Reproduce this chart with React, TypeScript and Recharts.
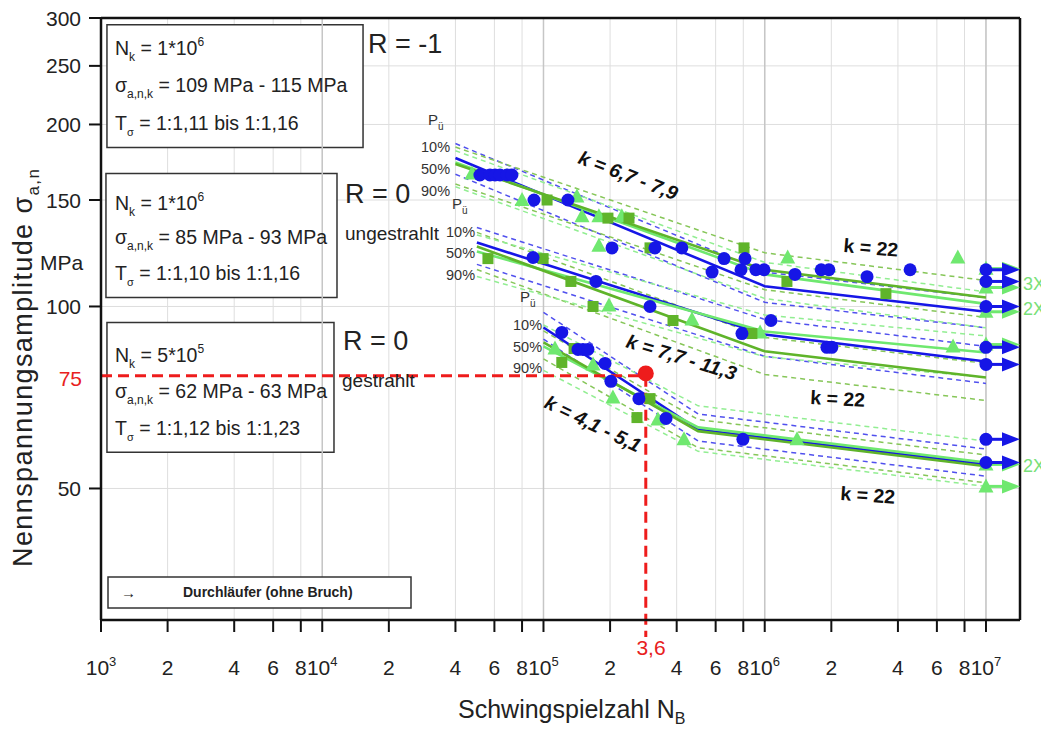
import React, { useLayoutEffect } from "react";
import {
  ComposedChart,
  Line,
  Scatter,
  XAxis,
  YAxis,
  CartesianGrid,
  ReferenceLine,
  ReferenceDot,
  ReferenceArea,
} from "recharts";

const FONT = "'Liberation Sans', Arial, sans-serif";

const BLUE = "#1616e6";
const DGREEN = "#5fb42a";
const LGREEN = "#6fe86f";
const BLUE_D = "#5050ee";
const DGREEN_D = "#86c658";
const LGREEN_D = "#92ee92";

// axes
const xTicks = [1e3, 2e3, 4e3, 6e3, 8e3, 1e4, 2e4, 4e4, 6e4, 8e4, 1e5, 2e5, 4e5, 6e5, 8e5, 1e6, 2e6, 4e6, 6e6, 8e6, 1e7];
const decades = [1e4, 1e5, 1e6, 1e7];
const yTicks = [50, 100, 150, 200, 250, 300];

// N at line start, knee, end
const nR1 = [40000, 1000000, 10000000];
const nR0u = [50000, 1000000, 10000000];
const nR0g = [100000, 500000, 10000000];

// R = -1 (P_ue 10 / 50 / 90 %)
const r1Blue10 = [186, 114, 103.4];
const r1Blue50 = [176, 108, 98];
const r1Blue90 = [165.5, 101.6, 92.2];
const r1DG10 = [183.5, 122.7, 110.4];
const r1DG50 = [172, 115, 103.5];
const r1DG90 = [159.4, 106.6, 95.9];
const r1LG10 = [181, 118.3, 105.7];
const r1LG50 = [173, 113, 101];
const r1LG90 = [157.8, 103.1, 92.2];

// R = 0 ungestrahlt
const r0uBlue10 = [135.1, 95.2, 85.9];
const r0uBlue50 = [127.6, 89.9, 81.1];
const r0uBlue90 = [117.4, 82.7, 74.6];
const r0uDG10 = [132.6, 88.9, 80.5];
const r0uDG50 = [125.7, 84.3, 76.3];
const r0uDG90 = [115.1, 77.2, 69.9];
const r0uLG10 = [131.3, 96.8, 89.4];
const r0uLG50 = [123.3, 90.9, 83.9];
const r0uLG90 = [112.1, 82.6, 76.3];

// R = 0 gestrahlt
const r0gBlue10 = [97.8, 66.4, 58.1];
const r0gBlue50 = [92.3, 62.6, 54.8];
const r0gBlue90 = [88.3, 59.9, 52.4];
const r0gDG10 = [91.1, 65, 56.8];
const r0gDG50 = [87.2, 62.2, 54.4];
const r0gDG90 = [81.9, 58.4, 51.1];
const r0gLG10 = [93.2, 68.5, 59.9];
const r0gLG50 = [85.9, 63.1, 55.2];
const r0gLG90 = [78.4, 57.6, 50.4];

// test points [N, sigma]
const r1Circles = [
  [51600, 165], [57300, 165], [60400, 165], [63600, 165], [68400, 165], [72000, 165],
  [90600, 150], [129000, 150], [204000, 125], [319000, 125], [422000, 125], [578000, 114],
  [655000, 120], [781000, 115], [815000, 120], [912000, 115], [993000, 115], [1370000, 113],
  [1800000, 115], [1950000, 115], [2900000, 112], [4540000, 115],
];
const r1Squares = [[103800, 150], [195600, 140], [243500, 140], [303000, 125], [806000, 125], [1260000, 110], [3530000, 105]];
const r1Triangles = [[47500, 166], [80000, 150], [141600, 152], [149300, 141], [178000, 141], [226000, 141], [178000, 126], [1270000, 120.5], [7460000, 120.5]];
const r1BlueRunouts = [[10000000, 115], [10000000, 110], [10000000, 100]];
const r1GreenRunouts = [[10000000, 115.5], [10000000, 107.5], [10000000, 98]];

const r0uCircles = [[89700, 120.5], [172600, 110], [303000, 100], [789000, 90.2], [1067000, 94.8], [1910000, 85.6], [2010000, 85.6]];
const r0uSquares = [[56100, 120], [99600, 120], [133000, 110], [167500, 100], [385000, 94.8], [875000, 90.2]];
const r0uTriangles = [[197700, 100.4], [469000, 95.2], [953000, 90.6], [7100000, 85.9]];
const r0uBlueRunouts = [[10000000, 85.6], [10000000, 80.2]];
const r0uGreenRunouts = [[10000000, 86.5]];

const r0gCircles = [[121000, 90.6], [143200, 84.9], [150800, 84.9], [158800, 84.9], [189700, 80.5], [201700, 75.2], [270000, 70.4], [358000, 65.3], [797000, 60.3]];
const r0gSquares = [[121000, 80.8], [137500, 85.2], [264600, 65.5], [303000, 70.4]];
const r0gTriangles = [[112700, 85.2], [167500, 80.2], [206000, 70.7], [329000, 65], [431500, 60.3], [1400000, 60.3]];
const r0gBlueRunouts = [[10000000, 60.3], [10000000, 55.2]];
const r0gGreenRunouts = [[10000000, 54.8], [10000000, 50.4]];

// example read-off (red)
const exampleN = 290000;
const exampleSigma = 76.8;

const pts = (n: number[], s: number[]) => n.map((x, i) => ({ x, y: s[i] }));
const pairs = (a: number[][]) => a.map(([x, y]) => ({ x, y }));

const lines = [
  { n: nR1, s: r1Blue10, c: BLUE_D, d: true },
  { n: nR1, s: r1Blue90, c: BLUE_D, d: true },
  { n: nR1, s: r1DG10, c: DGREEN_D, d: true },
  { n: nR1, s: r1DG90, c: DGREEN_D, d: true },
  { n: nR1, s: r1LG10, c: LGREEN_D, d: true },
  { n: nR1, s: r1LG90, c: LGREEN_D, d: true },
  { n: nR0u, s: r0uBlue10, c: BLUE_D, d: true },
  { n: nR0u, s: r0uBlue90, c: BLUE_D, d: true },
  { n: nR0u, s: r0uDG10, c: DGREEN_D, d: true },
  { n: nR0u, s: r0uDG90, c: DGREEN_D, d: true },
  { n: nR0u, s: r0uLG10, c: LGREEN_D, d: true },
  { n: nR0u, s: r0uLG90, c: LGREEN_D, d: true },
  { n: nR0g, s: r0gBlue10, c: BLUE_D, d: true },
  { n: nR0g, s: r0gBlue90, c: BLUE_D, d: true },
  { n: nR0g, s: r0gDG10, c: DGREEN_D, d: true },
  { n: nR0g, s: r0gDG90, c: DGREEN_D, d: true },
  { n: nR0g, s: r0gLG10, c: LGREEN_D, d: true },
  { n: nR0g, s: r0gLG90, c: LGREEN_D, d: true },
  { n: nR1, s: r1Blue50, c: BLUE, d: false },
  { n: nR1, s: r1LG50, c: LGREEN, d: false },
  { n: nR1, s: r1DG50, c: DGREEN, d: false },
  { n: nR0u, s: r0uBlue50, c: BLUE, d: false },
  { n: nR0u, s: r0uLG50, c: LGREEN, d: false },
  { n: nR0u, s: r0uDG50, c: DGREEN, d: false },
  { n: nR0g, s: r0gBlue50, c: BLUE, d: false },
  { n: nR0g, s: r0gLG50, c: LGREEN, d: false },
  { n: nR0g, s: r0gDG50, c: DGREEN, d: false },
];

const circle = (p: any) => <circle cx={p.cx} cy={p.cy} r={6.5} fill={BLUE} />;
const square = (p: any) => <rect x={p.cx - 5.5} y={p.cy - 5.5} width={11} height={11} fill={DGREEN} />;
const triangle = (p: any) => (
  <polygon points={`${p.cx},${p.cy - 8} ${p.cx + 7.5},${p.cy + 6} ${p.cx - 7.5},${p.cy + 6}`} fill={LGREEN} />
);
const runout = (color: string, mark: (p: any) => any) => (p: any) => (
  <g>
    <line x1={p.cx} y1={p.cy} x2={p.cx + 22} y2={p.cy} stroke={color} strokeWidth={3} />
    <polygon points={`${p.cx + 16},${p.cy - 7} ${p.cx + 34},${p.cy} ${p.cx + 16},${p.cy + 7}`} fill={color} />
    {mark(p)}
  </g>
);

const XTick = (p: any) => {
  const v = p.payload.value;
  const e = Math.floor(Math.log10(v) + 1e-9);
  const m = Math.round(v / Math.pow(10, e));
  return (
    <text x={p.x} y={p.y + 41} textAnchor="middle" fontSize={21} fill="#222" fontFamily={FONT}>
      {m === 1 ? (
        <>
          <tspan>10</tspan>
          <tspan fontSize={13} dy={-9}>{e}</tspan>
        </>
      ) : (
        m
      )}
    </text>
  );
};

const YTick = (p: any) => (
  <text x={p.x} y={p.y} dy="0.36em" textAnchor="end" fontSize={21} fill="#222" fontFamily={FONT}>
    {p.payload.value}
  </text>
);

// text with a subscript after the first part and the rest back on the baseline
const SubText = ({ x, y, a, sub, b, s = 12, d = 6, fs = 19.5 }: any) => (
  <text x={x} y={y} fontSize={fs}>
    {a}
    <tspan fontSize={s} dy={d}>{sub}</tspan>
    {b ? <tspan dy={-d}>{b}</tspan> : null}
  </text>
);

const NkText = ({ y, exp, base }: { y: number; exp: string; base: string }) => (
  <text x={115} y={y} fontSize={19.5}>
    N
    <tspan fontSize={12} dy={6}>k</tspan>
    <tspan dy={-6}>{` = ${base}*10`}</tspan>
    <tspan fontSize={12} dy={-9}>{exp}</tspan>
  </text>
);

const Annotations = () => (
  <svg width={1041} height={722} style={{ position: "absolute", left: 0, top: 0, pointerEvents: "none" }} fontFamily={FONT}>
    <g transform="translate(-8 -8)" fill="#222">
      {/* box 1 */}
      <NkText y={55} base="1" exp="6" />
      <SubText x={115} y={92} a="σ" sub="a,n,k" b=" = 109 MPa - 115 MPa" />
      <SubText x={115} y={130} a="T" sub="σ" s={11} b=" = 1:1,11 bis 1:1,16" />
      {/* box 2 */}
      <NkText y={210} base="1" exp="6" />
      <SubText x={115} y={244} a="σ" sub="a,n,k" b=" = 85 MPa - 93 MPa" />
      <SubText x={115} y={280} a="T" sub="σ" s={11} b=" = 1:1,10 bis 1:1,16" />
      {/* box 3 */}
      <NkText y={362} base="5" exp="5" />
      <SubText x={115} y={398} a="σ" sub="a,n,k" b=" = 62 MPa - 63 MPa" />
      <SubText x={115} y={435} a="T" sub="σ" s={11} b=" = 1:1,12 bis 1:1,23" />

      {/* legend */}
      <rect x={108} y={577} width={303} height={31} fill="#fff" stroke="#333" strokeWidth={1.5} />
      <text x={121} y={598} fontSize={15}>→</text>
      <text x={183} y={597} fontSize={14} fontWeight="bold">Durchläufer (ohne Bruch)</text>

      {/* group labels */}
      <text x={368} y={53} fontSize={27}>R = -1</text>
      <text x={345} y={203} fontSize={27}>R = 0</text>
      <text x={345} y={240} fontSize={19}>ungestrahlt</text>
      <text x={343} y={350} fontSize={27}>R = 0</text>
      <text x={342} y={387} fontSize={19}>gestrahlt</text>

      {/* P labels */}
      <g fill="#333">
        <SubText x={428} y={125} a="P" sub="ü" s={10} d={5} fs={15} />
        <text x={421} y={152} fontSize={14.5}>10%</text>
        <text x={421} y={174} fontSize={14.5}>50%</text>
        <text x={421} y={196} fontSize={14.5}>90%</text>
        <SubText x={452} y={209} a="P" sub="ü" s={10} d={5} fs={15} />
        <text x={446} y={237} fontSize={14.5}>10%</text>
        <text x={446} y={258} fontSize={14.5}>50%</text>
        <text x={446} y={280} fontSize={14.5}>90%</text>
        <SubText x={520} y={302} a="P" sub="ü" s={10} d={5} fs={15} />
        <text x={513} y={330} fontSize={14.5}>10%</text>
        <text x={513} y={352} fontSize={14.5}>50%</text>
        <text x={513} y={373} fontSize={14.5}>90%</text>
      </g>

      {/* slopes */}
      <g fontSize={19.5} fontWeight="bold" fill="#111">
        <text transform="translate(577 163) rotate(21)" fontStyle="italic">k = 6,7 - 7,9</text>
        <text transform="translate(843 252) rotate(5)">k = 22</text>
        <text transform="translate(625 347) rotate(17)" fontStyle="italic">k = 7,7 - 11,3</text>
        <text transform="translate(810 404) rotate(3)">k = 22</text>
        <text transform="translate(543 407) rotate(26)" fontStyle="italic">k = 4,1 - 5,1</text>
        <text transform="translate(840 500) rotate(4)">k = 22</text>
      </g>

      <g fontSize={18} fill="#78e078">
        <text x={1023} y={290}>3X</text>
        <text x={1023} y={315}>2X</text>
        <text x={1023} y={472}>2X</text>
      </g>

      {/* red read-off labels */}
      <text x={82} y={386} fontSize={21} fill="#e82020" textAnchor="end">75</text>
      <text x={651} y={655} fontSize={21} fill="#e82020" textAnchor="middle">3,6</text>

      {/* axis titles */}
      <text x={40} y={270} fontSize={21}>MPa</text>
      <text transform="translate(32 567) rotate(-90)" fontSize={27} letterSpacing={1.4}>
        Nennspannungsamplitude σ<tspan fontSize={17} dy={7}>a,n</tspan>
      </text>
      <text x={458} y={718} fontSize={25}>
        Schwingspielzahl N<tspan fontSize={16} dy={6}>B</tspan>
      </text>
    </g>
  </svg>
);

const App = () => {
  useLayoutEffect(() => {
    document.documentElement.style.overflow = "hidden";
    document.body.style.overflow = "hidden";
  }, []);
  return (
    <div style={{ position: "relative", width: 1041, height: 722, overflow: "hidden", fontFamily: FONT }}>
      <ComposedChart width={1041} height={722} margin={{ top: 10, right: 29, left: 0, bottom: 0 }}>
        <CartesianGrid stroke="#dedede" strokeWidth={1} />
        {decades.map((d) => (
          <ReferenceLine key={d} x={d} stroke="#c6c6c6" strokeWidth={1.5} />
        ))}
        <XAxis
          dataKey="x"
          type="number"
          scale="log"
          domain={[1000, 14250000]}
          allowDataOverflow
          ticks={xTicks}
          interval={0}
          height={110}
          tickSize={12}
          tick={<XTick />}
          axisLine={{ stroke: "#111", strokeWidth: 2.5 }}
          tickLine={{ stroke: "#111", strokeWidth: 2 }}
        />
        <YAxis
          dataKey="y"
          type="number"
          scale="log"
          domain={[30.3, 300]}
          allowDataOverflow
          ticks={yTicks}
          interval={0}
          width={93}
          tickSize={12}
          tickMargin={8}
          tick={<YTick />}
          axisLine={{ stroke: "#111", strokeWidth: 2.5 }}
          tickLine={{ stroke: "#111", strokeWidth: 2 }}
        />
        <ReferenceLine y={300} stroke="#111" strokeWidth={2.5} />
        <ReferenceLine x={14250000} stroke="#111" strokeWidth={2.5} />

        <ReferenceArea x1={1064} x2={15290} y1={183.2} y2={292.4} fill="#fff" fillOpacity={1} stroke="#333" strokeWidth={1.5} />
        <ReferenceArea x1={1053} x2={11660} y1={103.5} y2={165.9} fill="#fff" fillOpacity={1} stroke="#333" strokeWidth={1.5} />
        <ReferenceArea x1={1064} x2={11300} y1={57.4} y2={94.1} fill="#fff" fillOpacity={1} stroke="#333" strokeWidth={1.5} />

        {lines.map((l, i) => (
          <Line
            key={i}
            data={pts(l.n, l.s)}
            dataKey="y"
            type="linear"
            stroke={l.c}
            strokeWidth={l.d ? 1.5 : 2.6}
            strokeDasharray={l.d ? "5 4" : undefined}
            dot={false}
            activeDot={false}
            isAnimationActive={false}
          />
        ))}

        <Scatter data={pairs(r1Triangles)} shape={triangle} isAnimationActive={false} />
        <Scatter data={pairs(r0uTriangles)} shape={triangle} isAnimationActive={false} />
        <Scatter data={pairs(r0gTriangles)} shape={triangle} isAnimationActive={false} />
        <Scatter data={pairs(r1Squares)} shape={square} isAnimationActive={false} />
        <Scatter data={pairs(r0uSquares)} shape={square} isAnimationActive={false} />
        <Scatter data={pairs(r0gSquares)} shape={square} isAnimationActive={false} />
        <Scatter data={pairs(r1Circles)} shape={circle} isAnimationActive={false} />
        <Scatter data={pairs(r0uCircles)} shape={circle} isAnimationActive={false} />
        <Scatter data={pairs(r0gCircles)} shape={circle} isAnimationActive={false} />

        <Scatter data={pairs(r1GreenRunouts)} shape={runout(LGREEN, triangle)} isAnimationActive={false} />
        <Scatter data={pairs(r0uGreenRunouts)} shape={runout(LGREEN, triangle)} isAnimationActive={false} />
        <Scatter data={pairs(r0gGreenRunouts)} shape={runout(LGREEN, triangle)} isAnimationActive={false} />
        <Scatter data={pairs(r1BlueRunouts)} shape={runout(BLUE, circle)} isAnimationActive={false} />
        <Scatter data={pairs(r0uBlueRunouts)} shape={runout(BLUE, circle)} isAnimationActive={false} />
        <Scatter data={pairs(r0gBlueRunouts)} shape={runout(BLUE, circle)} isAnimationActive={false} />

        <ReferenceLine
          segment={[{ x: 1000, y: exampleSigma }, { x: exampleN, y: exampleSigma }]}
          stroke="#ee1c1c"
          strokeWidth={3}
          strokeDasharray="11 6"
          ifOverflow="visible"
        />
        <ReferenceLine
          segment={[{ x: exampleN, y: exampleSigma }, { x: exampleN, y: 28.4 }]}
          stroke="#ee1c1c"
          strokeWidth={3}
          strokeDasharray="11 6"
          ifOverflow="visible"
        />
        <ReferenceDot x={exampleN} y={77.5} r={8} fill="#ee1c1c" stroke="none" ifOverflow="visible" />
      </ComposedChart>
      <Annotations />
    </div>
  );
};

export default App;
